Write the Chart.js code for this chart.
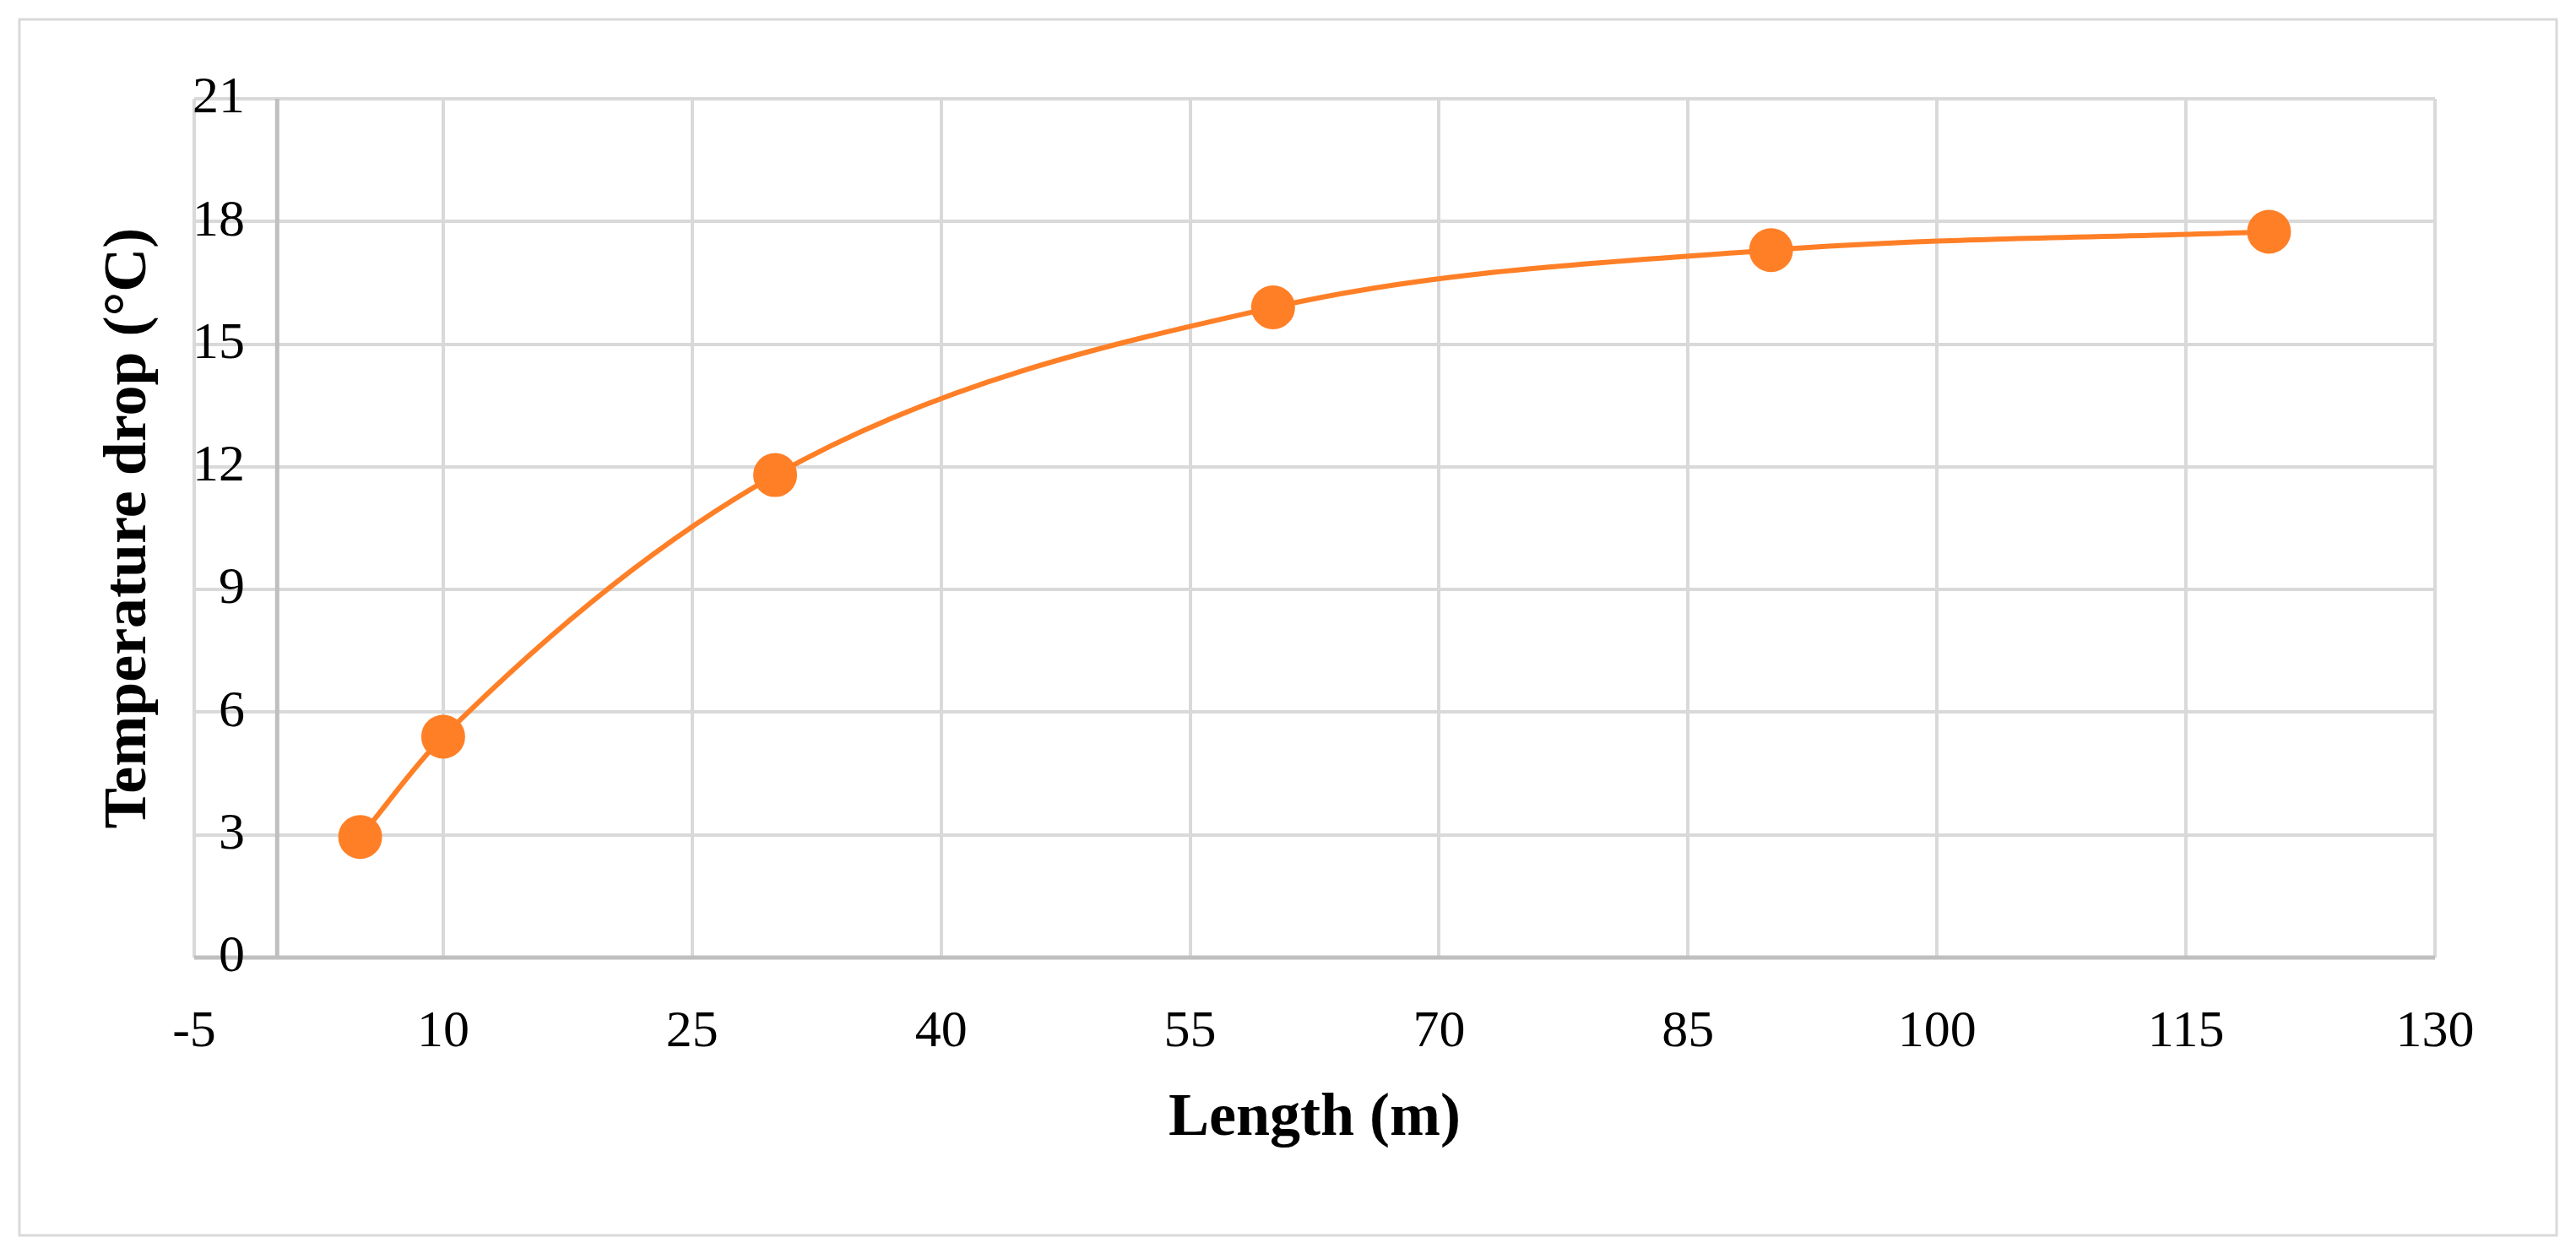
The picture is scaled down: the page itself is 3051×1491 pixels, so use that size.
<!DOCTYPE html>
<html><head><meta charset="utf-8">
<script src="https://cdn.jsdelivr.net/npm/chart.js@4/dist/chart.umd.min.js"></script>
<style>html,body{margin:0;padding:0;background:#fff}</style>
</head><body>
<canvas id="c" width="3051" height="1491" style="width:3051px;height:1491px"></canvas>
<script>
const lengths = [5, 10, 30, 60, 90, 120];
const tempDrop = [2.95, 5.4, 11.8, 15.9, 17.3, 17.75];
const xTicks = [-5, 10, 25, 40, 55, 70, 85, 100, 115, 130];
const yTicks = [0, 3, 6, 9, 12, 15, 18, 21];

const deco = {
  id: 'deco',
  beforeDraw(chart) {
    const c = chart.ctx;
    c.save();
    c.fillStyle = '#fff';
    c.fillRect(0, 0, chart.width, chart.height);
    c.strokeStyle = '#d9d9d9';
    c.lineWidth = 3;
    c.strokeRect(23, 23, 3005, 1440);
    c.restore();
  },
  beforeDatasetsDraw(chart) {
    const c = chart.ctx, x = chart.scales.x, y = chart.scales.y;
    const px = x.getPixelForValue(0);
    c.save();
    c.strokeStyle = '#bfbfbf';
    c.lineWidth = 5;
    c.beginPath();
    c.moveTo(px, y.getPixelForValue(21));
    c.lineTo(px, y.getPixelForValue(0));
    c.moveTo(x.left, y.getPixelForValue(0));
    c.lineTo(x.right, y.getPixelForValue(0));
    c.stroke();
    c.fillStyle = '#000';
    c.font = '62px "Liberation Serif"';
    c.textAlign = 'right';
    c.textBaseline = 'middle';
    yTicks.forEach(v => c.fillText(String(v), 290, y.getPixelForValue(v)));
    c.restore();
  }
};

new Chart(document.getElementById('c'), {
  type: 'scatter',
  data: { datasets: [{
    data: lengths.map((v, i) => ({ x: v, y: tempDrop[i] })),
    showLine: true,
    borderColor: '#FF7F27',
    backgroundColor: '#FF7F27',
    borderWidth: 6,
    pointRadius: 23,
    pointHoverRadius: 23,
    cubicInterpolationMode: 'monotone'
  }]},
  options: {
    responsive: false,
    devicePixelRatio: 1,
    animation: false,
    layout: { padding: { left: 100, top: 117, right: 167, bottom: 0 } },
    plugins: { legend: { display: false }, tooltip: { enabled: false } },
    scales: {
      x: {
        type: 'linear', min: -5, max: 130,
        afterBuildTicks: s => { s.ticks = xTicks.map(v => ({ value: v })); },
        afterFit: s => { s.height = 357; },
        grid: { color: '#d9d9d9', lineWidth: 4, drawTicks: false },
        border: { display: false },
        ticks: { padding: 52, color: '#000', font: { family: 'Liberation Serif', size: 62 } },
        title: { display: true, text: 'Length (m)', color: '#000', padding: { top: 0, bottom: 122 },
                 font: { family: 'Liberation Serif', size: 72, weight: 'bold' } }
      },
      y: {
        type: 'linear', min: 0, max: 21,
        afterBuildTicks: s => { s.ticks = yTicks.map(v => ({ value: v })); },
        afterFit: s => { s.width = 130; },
        grid: { color: '#d9d9d9', lineWidth: 4, drawTicks: false },
        border: { display: false },
        ticks: { display: false },
        title: { display: true, text: 'Temperature drop (°C)', color: '#000', padding: { top: 10, bottom: 0 },
                 font: { family: 'Liberation Serif', size: 72, weight: 'bold' } }
      }
    }
  },
  plugins: [deco]
});
</script>
</body></html>
